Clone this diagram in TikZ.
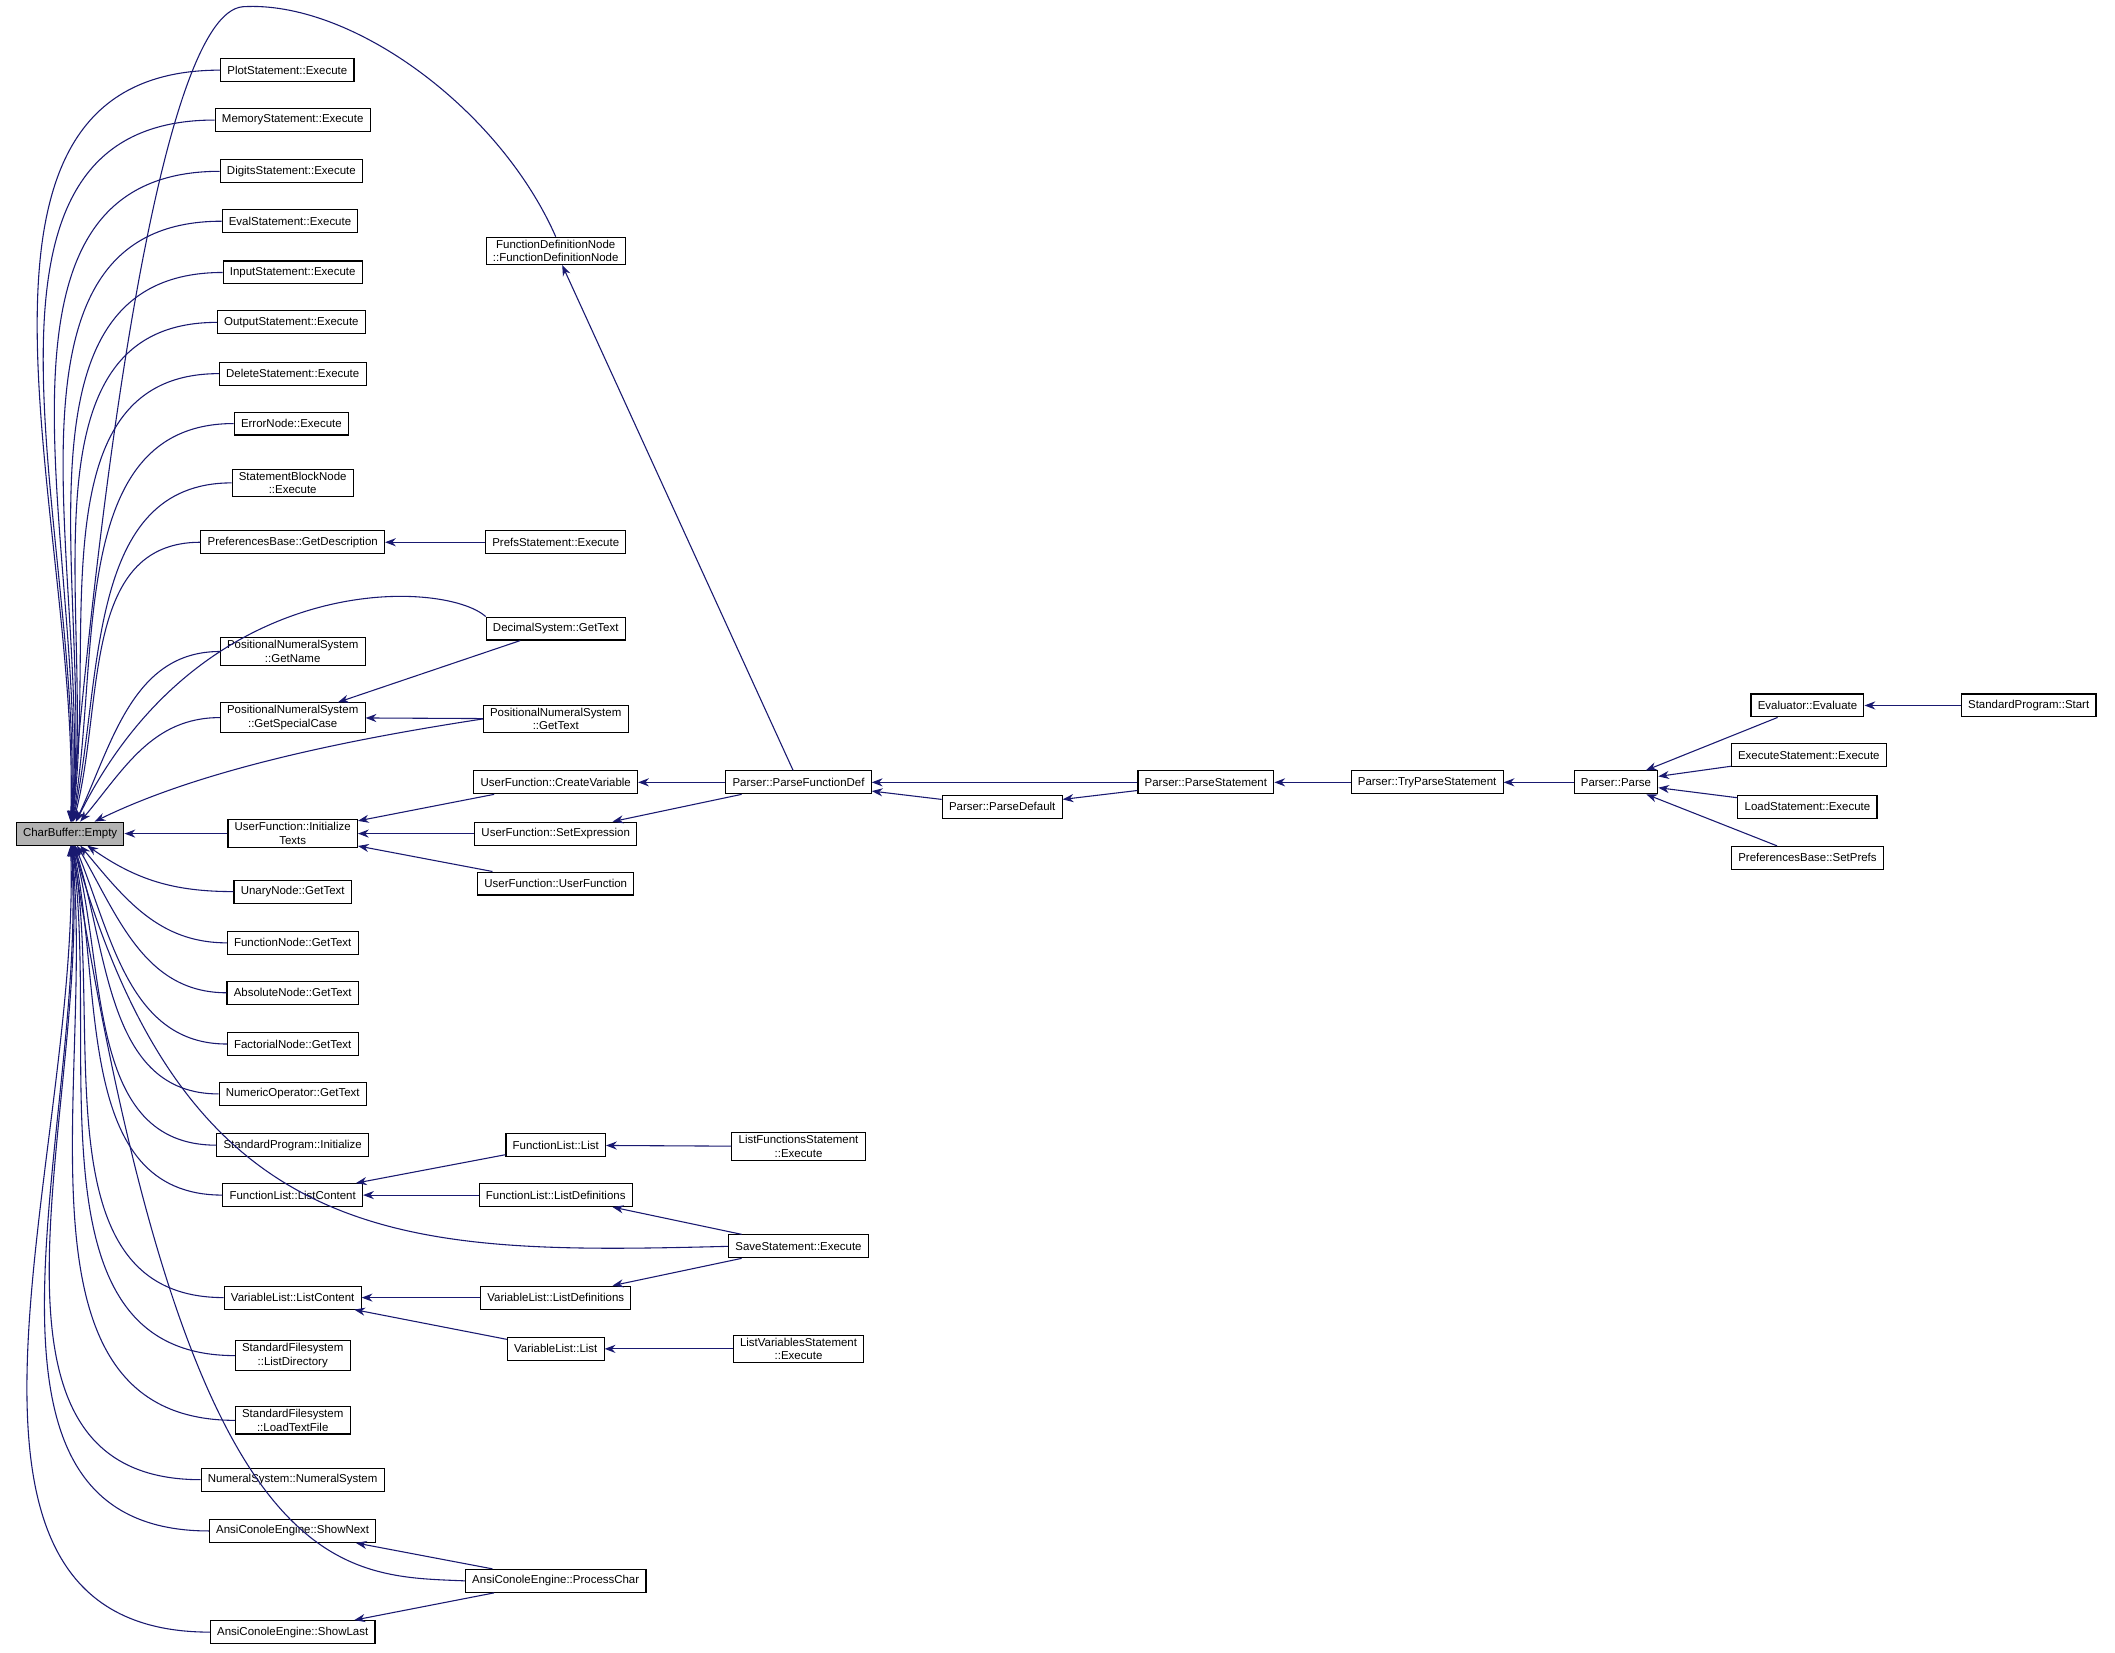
\documentclass[tikz,border=0pt]{standalone}
\usepackage{fontspec}
\setmainfont{Liberation Sans}
\usetikzlibrary{arrows.meta}
\definecolor{edge}{RGB}{25,25,112}
\tikzset{
  bx/.style={draw,thick,fill=white,inner xsep=5pt,inner ysep=2pt,minimum height=17pt,font=\fontsize{8.5}{10}\selectfont,align=center},
  e/.style={edge,thick,-{Stealth[length=8pt,width=6pt]}},
}
\begin{document}
\begin{tikzpicture}[x=1pt,y=-1pt]
\useasboundingbox[fill=white] (0,0) rectangle (1568,1225);
\node[bx,fill=black!30] (E) at (52,618) {CharBuffer::Empty};
% left column
\node[bx] (l1) at (213,52) {PlotStatement::Execute};
\node[bx] (l2) at (217,89) {MemoryStatement::Execute};
\node[bx] (l3) at (216,127) {DigitsStatement::Execute};
\node[bx] (l4) at (215,164) {EvalStatement::Execute};
\node[bx] (l5) at (217,202) {InputStatement::Execute};
\node[bx] (l6) at (216,239) {OutputStatement::Execute};
\node[bx] (l7) at (217,277) {DeleteStatement::Execute};
\node[bx] (l8) at (216,314) {ErrorNode::Execute};
\node[bx] (l9) at (217,358) {StatementBlockNode\\::Execute};
\node[bx] (l10) at (217,402) {PreferencesBase::GetDescription};
\node[bx] (l11) at (217,483) {PositionalNumeralSystem\\::GetName};
\node[bx] (l12) at (217,532) {PositionalNumeralSystem\\::GetSpecialCase};
\node[bx] (l13) at (217,618) {UserFunction::Initialize\\Texts};
\node[bx] (l14) at (217,661) {UnaryNode::GetText};
\node[bx] (l15) at (217,699) {FunctionNode::GetText};
\node[bx] (l16) at (217,736) {AbsoluteNode::GetText};
\node[bx] (l17) at (217,774) {FactorialNode::GetText};
\node[bx] (l18) at (217,811) {NumericOperator::GetText};
\node[bx] (l19) at (217,849) {StandardProgram::Initialize};
\node[bx] (l20) at (217,886) {FunctionList::ListContent};
\node[bx] (l21) at (217,962) {VariableList::ListContent};
\node[bx] (l22) at (217,1005) {StandardFilesystem\\::ListDirectory};
\node[bx] (l23) at (217,1053) {StandardFilesystem\\::LoadTextFile};
\node[bx] (l24) at (217,1097) {NumeralSystem::NumeralSystem};
\node[bx] (l25) at (217,1135) {AnsiConoleEngine::ShowNext};
\node[bx] (l26) at (217,1210) {AnsiConoleEngine::ShowLast};
% second column
\node[bx] (fdn) at (412,186) {FunctionDefinitionNode\\::FunctionDefinitionNode};
\node[bx] (prefs) at (412,402) {PrefsStatement::Execute};
\node[bx] (dec) at (412,466) {DecimalSystem::GetText};
\node[bx] (pnsg) at (412,533) {PositionalNumeralSystem\\::GetText};
\node[bx] (cv) at (412,580) {UserFunction::CreateVariable};
\node[bx] (se) at (412,618) {UserFunction::SetExpression};
\node[bx] (uf) at (412,655) {UserFunction::UserFunction};
\node[bx] (fll) at (412,849) {FunctionList::List};
\node[bx] (flld) at (412,886) {FunctionList::ListDefinitions};
\node[bx] (vlld) at (412,962) {VariableList::ListDefinitions};
\node[bx] (vll) at (412,1000) {VariableList::List};
\node[bx] (pc) at (412,1172) {AnsiConoleEngine::ProcessChar};
% third
\node[bx] (pfd) at (592,580) {Parser::ParseFunctionDef};
\node[bx] (lfs) at (592,850) {ListFunctionsStatement\\::Execute};
\node[bx] (ss) at (592,924) {SaveStatement::Execute};
\node[bx] (lvs) at (592,1000) {ListVariablesStatement\\::Execute};
\node[bx] (pd) at (743,598) {Parser::ParseDefault};
\node[bx] (ps) at (894,580) {Parser::ParseStatement};
\node[bx] (tps) at (1058,580) {Parser::TryParseStatement};
\node[bx] (pp) at (1198,580) {Parser::Parse};
\node[bx] (ev) at (1340,523) {Evaluator::Evaluate};
\node[bx] (es) at (1341,560) {ExecuteStatement::Execute};
\node[bx] (ls) at (1340,598) {LoadStatement::Execute};
\node[bx] (sp) at (1340,636) {PreferencesBase::SetPrefs};
\node[bx] (st) at (1504,523) {StandardProgram::Start};
% edges to Empty
\foreach \n/\a in {l1/88,l2/87,l3/86,l4/85,l5/84,l6/83,l7/82,l8/80,l9/78,l10/75,l11/65,l12/50}
  \draw[e] (\n.west) to[out=180,in=\a] (E);
\draw[e] (l13) -- (E);
\foreach \n/\a in {l14/-35,l15/-50,l16/-60,l17/-68,l18/-72,l19/-75,l20/-78,l21/-80,l22/-82,l23/-84,l24/-85,l25/-86,l26/-88}
  \draw[e] (\n.west) to[out=180,in=\a] (E);
\draw[e] (fdn.north) .. controls (370,80) and (260,0) .. (180,5) .. controls (120,10) and (75,350) .. (E);
\draw[e] (dec.north west) .. controls (330,430) and (150,420) .. (E);
\draw[e] (pnsg.west) .. controls (260,548) and (150,570) .. (E);
\draw[e] (ss.west) .. controls (300,930) and (140,930) .. (E);
\draw[e] (pc.west) .. controls (250,1168) and (140,1175) .. (E);
% others
\draw[e] (prefs) -- (l10);
\draw[e] (dec) -- (l12);
\draw[e] (pnsg) -- (l12);
\draw[e] (cv) -- (l13);
\draw[e] (se) -- (l13);
\draw[e] (uf) -- (l13);
\draw[e] (pfd) -- (fdn);
\draw[e] (pfd) -- (cv);
\draw[e] (pfd) -- (se);
\draw[e] (ps) -- (pfd);
\draw[e] (pd) -- (pfd);
\draw[e] (ps) -- (pd);
\draw[e] (tps) -- (ps);
\draw[e] (pp) -- (tps);
\draw[e] (ev) -- (pp);
\draw[e] (es) -- (pp);
\draw[e] (ls) -- (pp);
\draw[e] (sp) -- (pp);
\draw[e] (st) -- (ev);
\draw[e] (fll) -- (l20);
\draw[e] (flld) -- (l20);
\draw[e] (lfs) -- (fll);
\draw[e] (ss) -- (flld);
\draw[e] (vlld) -- (l21);
\draw[e] (vll) -- (l21);
\draw[e] (ss) -- (vlld);
\draw[e] (lvs) -- (vll);
\draw[e] (pc) -- (l25);
\draw[e] (pc) -- (l26);
\end{tikzpicture}
\end{document}
